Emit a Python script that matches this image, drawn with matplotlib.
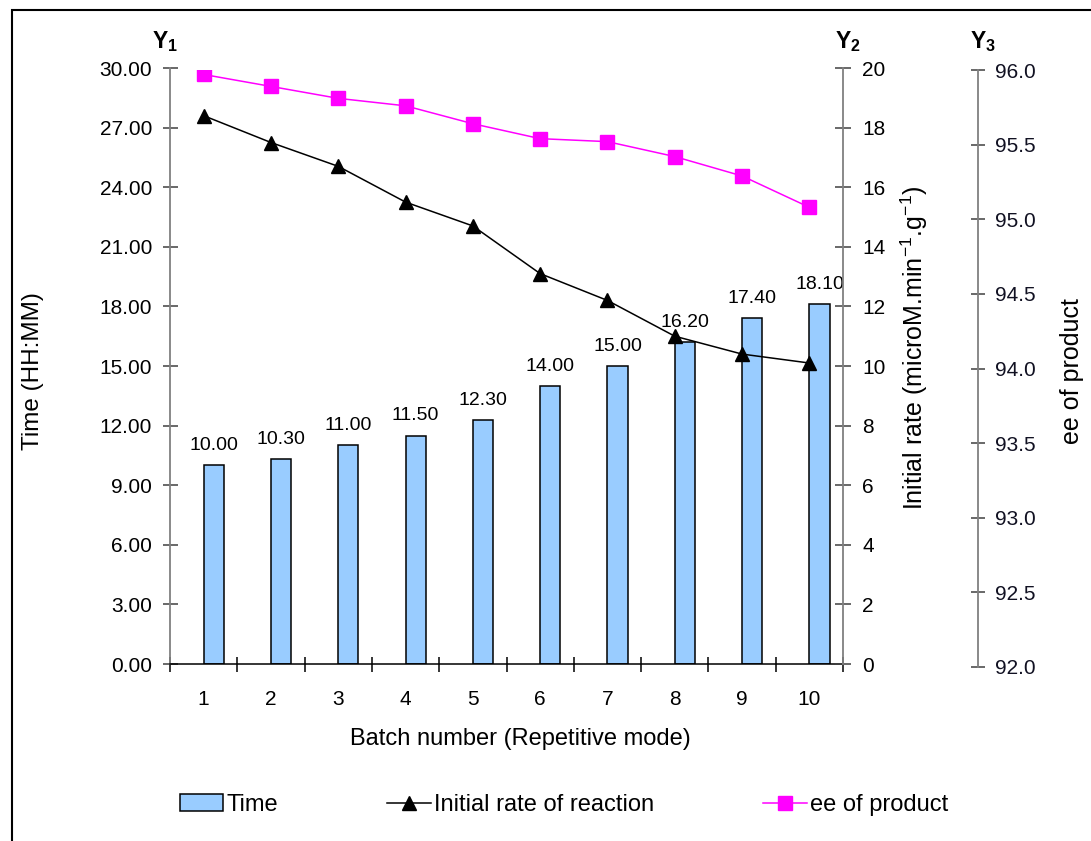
import numpy as np
import matplotlib
matplotlib.use("Agg")
import matplotlib.pyplot as plt
from matplotlib.patches import Rectangle
from matplotlib.ticker import FixedLocator, FixedFormatter, FormatStrFormatter, NullFormatter

plt.rcParams['font.family'] = ['Liberation Sans', 'DejaVu Sans']
plt.rcParams['mathtext.fontset'] = 'custom'
plt.rcParams['mathtext.rm'] = 'Liberation Sans'
plt.rcParams['mathtext.bf'] = 'Liberation Sans:bold'
plt.rcParams['mathtext.it'] = 'Liberation Sans:italic'
plt.rcParams['mathtext.sf'] = 'Liberation Sans'

# Data
batches = [1, 2, 3, 4, 5, 6, 7, 8, 9, 10]
time_hhmm = [10.00, 10.30, 11.00, 11.50, 12.30, 14.00, 15.00, 16.20, 17.40, 18.10]
initial_rate = [18.4, 17.5, 16.7, 15.5, 14.7, 13.1, 12.2, 11.0, 10.4, 10.1]
ee_product = [95.97, 95.89, 95.81, 95.76, 95.64, 95.54, 95.52, 95.42, 95.29, 95.08]
legend_labels = ['Time', 'Initial rate of reaction', 'ee of product']

W, H = 1091, 841
fig = plt.figure(figsize=(W / 100, H / 100), dpi=100)
fig.patch.set_facecolor('white')


def fx(px):
    return px / W


def fy(py):
    return 1 - py / H


GRAY = '#808080'
TICK = '#404040'
TICK_FS = 15

ax = fig.add_axes([fx(170), fy(664), fx(843) - fx(170), fy(68) - fy(664)])
ax2 = ax.twinx()
ax3 = fig.add_axes([fx(170), fy(667), fx(843) - fx(170), fy(70) - fy(667)])

# Bars for time (primary axis)
bar_w = 0.3
bar_x = [b + bar_w / 2 for b in batches]
bars = ax.bar(bar_x, time_hhmm, width=bar_w, color='#99CCFF',
              edgecolor='black', linewidth=1.1, zorder=2)
for x, v in zip(bar_x, time_hhmm):
    ax.annotate(f'{v:.2f}', xy=(x, v), xytext=(0, 8), textcoords='offset points',
                ha='center', va='bottom', fontsize=14)

ax.set_xlim(0.5, 10.5)
ax.set_ylim(0, 30)
ax.set_yticks(np.arange(0, 30.01, 3))
ax.yaxis.set_major_formatter(FormatStrFormatter('%.2f'))
ax.xaxis.set_major_locator(FixedLocator(np.arange(0.5, 10.6, 1)))
ax.xaxis.set_major_formatter(NullFormatter())
ax.xaxis.set_minor_locator(FixedLocator(batches))
ax.xaxis.set_minor_formatter(FixedFormatter([str(b) for b in batches]))
ax.tick_params(axis='x', which='major', direction='inout', length=10.8,
               width=1.1, color='black')
ax.tick_params(axis='x', which='minor', length=0, pad=19, labelsize=TICK_FS)
ax.tick_params(axis='y', direction='inout', length=10.8, width=1.1,
               color=TICK, pad=7.5, labelsize=TICK_FS)
for s in ('top', 'right'):
    ax.spines[s].set_visible(False)
ax.spines['left'].set_color(GRAY)
ax.spines['left'].set_linewidth(1.3)
ax.spines['bottom'].set_color('black')
ax.spines['bottom'].set_linewidth(1.1)

# Initial rate (second axis)
line2, = ax2.plot(batches, initial_rate, color='black', lw=1.1, marker='^',
                  ms=10, zorder=3)
ax2.set_ylim(0, 20)
ax2.set_yticks(range(0, 21, 2))
ax2.tick_params(axis='y', direction='inout', length=11.5, width=1.1,
                color=TICK, pad=8, labelsize=TICK_FS)
for s in ('top', 'left', 'bottom'):
    ax2.spines[s].set_visible(False)
ax2.spines['right'].set_color(GRAY)
ax2.spines['right'].set_linewidth(1.3)

# ee of product (third axis)
line3, = ax3.plot(batches, ee_product, color='#FF00FF', lw=1.1, marker='s',
                  ms=9.5, zorder=3)
ax3.set_xlim(0.5, 10.5)
ax3.set_ylim(92, 96)
ax3.set_yticks(np.arange(92, 96.01, 0.5))
ax3.yaxis.set_major_formatter(FormatStrFormatter('%.1f'))
ax3.yaxis.tick_right()
ax3.set_xticks([])
ax3.patch.set_visible(False)
for s in ('top', 'left', 'bottom'):
    ax3.spines[s].set_visible(False)
ax3.spines['right'].set_position(('axes', (978 - 170) / (843 - 170)))
ax3.spines['right'].set_color(GRAY)
ax3.spines['right'].set_linewidth(1.3)
ax3.tick_params(axis='y', direction='inout', length=10.5, width=1.1,
                color=TICK, pad=7, labelsize=TICK_FS, labelcolor='#111122')

# Axis titles
fig.text(fx(33), fy(371), 'Time (HH:MM)', rotation=90, ha='center', va='center',
         fontsize=17.5)
fig.text(fx(914), fy(348), 'Initial rate (microM.min$^{-1}$.g$^{-1}$)', rotation=90,
         ha='center', va='center', fontsize=18)
fig.text(fx(1072), fy(371), 'ee of product', rotation=90, ha='center', va='center',
         fontsize=18)
fig.text(fx(520), fy(739), 'Batch number (Repetitive mode)', ha='center', va='center',
         fontsize=17)

# Axis headers
for xp, sub in ((165, '1'), (848, '2'), (983, '3')):
    fig.text(fx(xp), fy(42), r'$\mathbf{Y}_{\mathbf{' + sub + '}}$', ha='center',
             va='center', fontsize=16.5)

# Legend
fig.legend(handles=[bars, line2, line3], labels=legend_labels, loc='center',
           bbox_to_anchor=(fx(564), fy(805)), ncol=3, frameon=False,
           fontsize=17, handlelength=1.85, handletextpad=0.15, columnspacing=4.6)

# Outer frame
fig.add_artist(Rectangle((fx(12), -0.1), 2, fy(10) + 0.1, transform=fig.transFigure,
                         fill=False, edgecolor='black', linewidth=1.5))

fig.savefig('out.png', dpi=100)
